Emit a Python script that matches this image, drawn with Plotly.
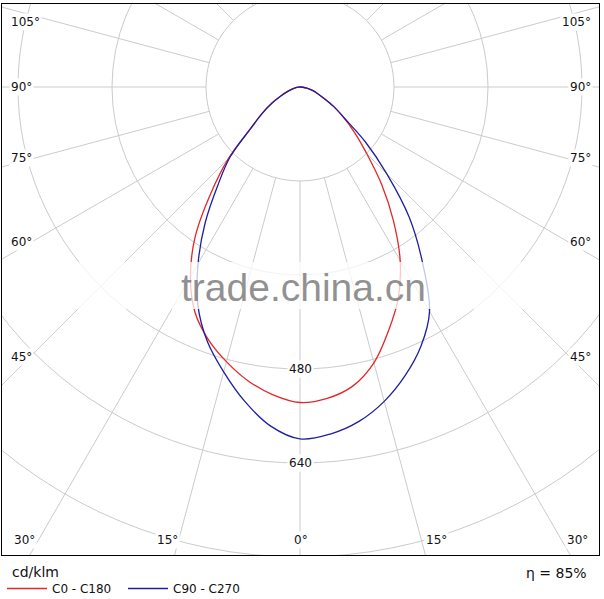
import numpy as np
import plotly.graph_objects as go

# ---------------- data (cd/klm) ----------------
gamma = [0, 5, 10, 15, 20, 25, 30, 35, 40, 45, 50, 55, 60, 65, 70, 75, 80, 85, 90]
c0 = [537, 532, 517, 486, 441, 396, 341, 277, 216, 161, 122, 91, 66, 44, 31, 21, 12, 5, 0]
c180 = [537, 526, 508, 484, 457, 423, 373, 311, 236, 172, 109, 79, 56, 36, 23, 14, 8, 3, 0]
c90 = [599, 593, 578, 554, 523, 487, 441, 363, 289, 209, 145, 92, 66, 44, 31, 21, 12, 5, 0]
c270 = [599, 579, 543, 502, 461, 411, 347, 281, 217, 168, 109, 79, 56, 36, 23, 14, 8, 3, 0]
ring_values = [160, 320, 480, 640, 800, 960, 1120]
ring_labels = ["480", "640"]
spoke_angles = list(range(15, 360, 15)) + [0]
left_labels = ["105°", "90°", "75°", "60°", "45°", "30°", "15°", "0°"]
right_labels = ["105°", "90°", "75°", "60°", "45°", "30°", "15°"]
series_names = ["C0 - C180", "C90 - C270"]
efficiency = "η = 85%"
unit = "cd/klm"

# ---------------- geometry ----------------
S = 0.5875          # px per cd/klm
CX, CY = 300, 87    # pole position (px)
ML, MR, MT, MB = 2, 5, 4, 44
W, H = 604, 599


def px(xp, yp):
    return (xp - CX) / S, (CY - yp) / S


def curve(left, right):
    g = np.radians(gamma)
    l = np.array(left, float)
    r = np.array(right, float)
    xs = np.concatenate([-(l * np.sin(g))[::-1], (r * np.sin(g))[1:]])
    ys = np.concatenate([-(l * np.cos(g))[::-1], -(r * np.cos(g))[1:]])
    return xs, ys


fig = go.Figure()
for (lft, rgt), name, col in [((c180, c0), series_names[0], "#e3262b"),
                              ((c270, c90), series_names[1], "#1f1f9e")]:
    xs, ys = curve(lft, rgt)
    fig.add_trace(go.Scatter(x=xs, y=ys, mode="lines", name=name,
                             line=dict(color=col, width=1.3, shape="spline", smoothing=1.0),
                             hoverinfo="skip"))

shapes = []
grid = "#cbcbcb"
for rv in ring_values:
    shapes.append(dict(type="circle", xref="x", yref="y", x0=-rv, y0=-rv, x1=rv, y1=rv,
                       line=dict(color=grid, width=1), layer="below"))
for a in spoke_angles:
    t = np.radians(a)
    r0, r1 = ring_values[0], 2000
    shapes.append(dict(type="line", xref="x", yref="y",
                       x0=r0 * np.sin(t), y0=-r0 * np.cos(t),
                       x1=r1 * np.sin(t), y1=-r1 * np.cos(t),
                       line=dict(color=grid, width=1), layer="below"))
# watermark band
bx0, by0 = px(ML, 262)
bx1, by1 = px(W - MR, 309)
shapes.append(dict(type="rect", xref="x", yref="y", x0=bx0, y0=by0, x1=bx1, y1=by1,
                   fillcolor="rgba(255,255,255,0.75)", line=dict(width=0), layer="above"))

ann = []
lab_font = dict(family="DejaVu Sans", size=12, color="#111")
left_pos = [(25, 22), (21, 87), (21, 158), (21, 242), (21, 357), (24, 540), (167, 540), (301, 540)]
right_pos = [(576, 22), (580, 87), (580, 158), (580, 242), (580, 357), (577, 540), (436, 540)]
for txt, (xp, yp) in list(zip(left_labels, left_pos)) + list(zip(right_labels, right_pos)):
    x, y = px(xp, yp)
    ann.append(dict(x=x, y=y, xref="x", yref="y", text=txt, showarrow=False,
                    font=lab_font, bgcolor="white", borderpad=1))
for txt in ring_labels:
    v = float(txt)
    ann.append(dict(x=0, y=-v, xref="x", yref="y", text=txt, showarrow=False,
                    font=lab_font, bgcolor="white", borderpad=1))
wx, wy = px(303, 287)
ann.append(dict(x=wx, y=wy, xref="x", yref="y", text="trade.china.cn", showarrow=False,
                font=dict(family="Liberation Sans", size=39, color="rgba(120,120,120,0.82)")))

pw = W - ML - MR
ph = H - MT - MB
ann.append(dict(x=(10 - ML) / pw, y=(H - MB - 572) / ph, xref="paper", yref="paper",
                text=unit, showarrow=False, xanchor="left", yanchor="middle",
                font=dict(family="DejaVu Sans", size=14, color="#111")))
ann.append(dict(x=(589 - ML) / pw, y=(H - MB - 573) / ph, xref="paper", yref="paper",
                text=efficiency, showarrow=False, xanchor="right", yanchor="middle",
                font=dict(family="DejaVu Sans", size=14, color="#111")))

xr0, _ = px(ML, 0)
xr1, _ = px(W - MR, 0)
_, yr1 = px(0, MT)
_, yr0 = px(0, H - MB)

fig.update_layout(
    width=W, height=H, margin=dict(l=ML, r=MR, t=MT, b=MB, autoexpand=False),
    paper_bgcolor="white", plot_bgcolor="white",
    xaxis=dict(range=[xr0, xr1], showgrid=False, zeroline=False, showticklabels=False,
               ticks="", showline=True, mirror=True, linecolor="black", linewidth=1, fixedrange=True),
    yaxis=dict(range=[yr0, yr1], showgrid=False, zeroline=False, showticklabels=False,
               ticks="", showline=True, mirror=True, linecolor="black", linewidth=1, fixedrange=True),
    shapes=shapes, annotations=ann,
    showlegend=True,
    legend=dict(orientation="h", x=0, y=(H - MB - 574) / ph, xanchor="left", yanchor="top",
                font=dict(family="DejaVu Sans", size=12, color="#111"), itemwidth=40,
                bgcolor="rgba(0,0,0,0)", tracegroupgap=0, entrywidth=66, entrywidthmode="pixels"),
)

fig.write_html("out.html", config={"displayModeBar": False},
               post_script="document.body.style.margin='0';document.body.style.overflow='hidden';")
